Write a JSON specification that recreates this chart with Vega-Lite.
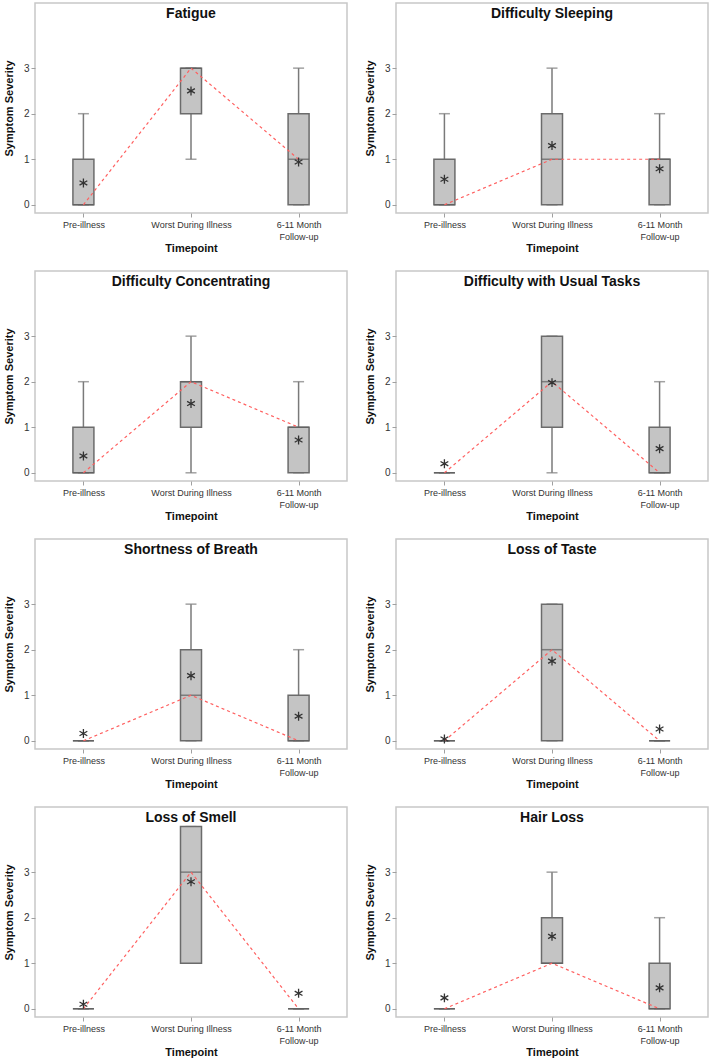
{
  "$schema": "https://vega.github.io/schema/vega-lite/v6.json",
  "padding": {"left": 2, "top": 2, "right": 0, "bottom": 0},
  "columns": 2,
  "spacing": {"row": 58, "column": 49},
  "bounds": "flush",
  "data": {"values": [
    {"symptom": "Fatigue", "timepoint": "Pre-illness", "t": 1, "q1": 0, "med": 0, "q3": 1, "lo": 0, "hi": 2, "mean": 0.48},
    {"symptom": "Fatigue", "timepoint": "Worst During Illness", "t": 2, "q1": 2, "med": 3, "q3": 3, "lo": 1, "hi": 3, "mean": 2.50},
    {"symptom": "Fatigue", "timepoint": "6-11 Month Follow-up", "t": 3, "q1": 0, "med": 1, "q3": 2, "lo": 0, "hi": 3, "mean": 0.94},
    {"symptom": "Difficulty Sleeping", "timepoint": "Pre-illness", "t": 1, "q1": 0, "med": 0, "q3": 1, "lo": 0, "hi": 2, "mean": 0.56},
    {"symptom": "Difficulty Sleeping", "timepoint": "Worst During Illness", "t": 2, "q1": 0, "med": 1, "q3": 2, "lo": 0, "hi": 3, "mean": 1.30},
    {"symptom": "Difficulty Sleeping", "timepoint": "6-11 Month Follow-up", "t": 3, "q1": 0, "med": 1, "q3": 1, "lo": 0, "hi": 2, "mean": 0.79},
    {"symptom": "Difficulty Concentrating", "timepoint": "Pre-illness", "t": 1, "q1": 0, "med": 0, "q3": 1, "lo": 0, "hi": 2, "mean": 0.37},
    {"symptom": "Difficulty Concentrating", "timepoint": "Worst During Illness", "t": 2, "q1": 1, "med": 2, "q3": 2, "lo": 0, "hi": 3, "mean": 1.52},
    {"symptom": "Difficulty Concentrating", "timepoint": "6-11 Month Follow-up", "t": 3, "q1": 0, "med": 1, "q3": 1, "lo": 0, "hi": 2, "mean": 0.72},
    {"symptom": "Difficulty with Usual Tasks", "timepoint": "Pre-illness", "t": 1, "q1": 0, "med": 0, "q3": 0, "lo": 0, "hi": 0, "mean": 0.20},
    {"symptom": "Difficulty with Usual Tasks", "timepoint": "Worst During Illness", "t": 2, "q1": 1, "med": 2, "q3": 3, "lo": 0, "hi": 3, "mean": 1.98},
    {"symptom": "Difficulty with Usual Tasks", "timepoint": "6-11 Month Follow-up", "t": 3, "q1": 0, "med": 0, "q3": 1, "lo": 0, "hi": 2, "mean": 0.53},
    {"symptom": "Shortness of Breath", "timepoint": "Pre-illness", "t": 1, "q1": 0, "med": 0, "q3": 0, "lo": 0, "hi": 0, "mean": 0.16},
    {"symptom": "Shortness of Breath", "timepoint": "Worst During Illness", "t": 2, "q1": 0, "med": 1, "q3": 2, "lo": 0, "hi": 3, "mean": 1.43},
    {"symptom": "Shortness of Breath", "timepoint": "6-11 Month Follow-up", "t": 3, "q1": 0, "med": 0, "q3": 1, "lo": 0, "hi": 2, "mean": 0.54},
    {"symptom": "Loss of Taste", "timepoint": "Pre-illness", "t": 1, "q1": 0, "med": 0, "q3": 0, "lo": 0, "hi": 0, "mean": 0.04},
    {"symptom": "Loss of Taste", "timepoint": "Worst During Illness", "t": 2, "q1": 0, "med": 2, "q3": 3, "lo": 0, "hi": 3, "mean": 1.75},
    {"symptom": "Loss of Taste", "timepoint": "6-11 Month Follow-up", "t": 3, "q1": 0, "med": 0, "q3": 0, "lo": 0, "hi": 0, "mean": 0.26},
    {"symptom": "Loss of Smell", "timepoint": "Pre-illness", "t": 1, "q1": 0, "med": 0, "q3": 0, "lo": 0, "hi": 0, "mean": 0.10},
    {"symptom": "Loss of Smell", "timepoint": "Worst During Illness", "t": 2, "q1": 1, "med": 3, "q3": 4, "lo": 1, "hi": 4, "mean": 2.79},
    {"symptom": "Loss of Smell", "timepoint": "6-11 Month Follow-up", "t": 3, "q1": 0, "med": 0, "q3": 0, "lo": 0, "hi": 0, "mean": 0.34},
    {"symptom": "Hair Loss", "timepoint": "Pre-illness", "t": 1, "q1": 0, "med": 0, "q3": 0, "lo": 0, "hi": 0, "mean": 0.24},
    {"symptom": "Hair Loss", "timepoint": "Worst During Illness", "t": 2, "q1": 1, "med": 1, "q3": 2, "lo": 1, "hi": 3, "mean": 1.59},
    {"symptom": "Hair Loss", "timepoint": "6-11 Month Follow-up", "t": 3, "q1": 0, "med": 0, "q3": 1, "lo": 0, "hi": 2, "mean": 0.46}
  ]},
  "concat": [
    {"title": "Fatigue", "width": 312, "height": 210, "transform": [{"filter": "datum.symptom === 'Fatigue'"}],
     "encoding": {"x": {"field": "timepoint", "type": "nominal", "sort": ["Pre-illness", "Worst During Illness", "6-11 Month Follow-up"], "scale": {"type": "point", "padding": 0.45}, "axis": {"title": "Timepoint", "labelAngle": 0, "labelFontSize": 9, "labelLineHeight": 12, "labelPadding": 3, "titlePadding": 1, "labelExpr": "datum.value == '6-11 Month Follow-up' ? ['6-11 Month', 'Follow-up'] : datum.label"}}},
     "layer": [
      {"mark": {"type": "rule", "color": "#7a7a7a", "strokeWidth": 1.5}, "encoding": {"y": {"field": "lo", "type": "quantitative", "title": "Symptom Severity", "scale": {"domain": [-0.18, 4.43], "nice": false, "zero": false}, "axis": {"values": [0, 1, 2, 3], "titlePadding": 9}}, "y2": {"field": "hi"}}},
      {"mark": {"type": "tick", "color": "#7a7a7a", "size": 11, "thickness": 1.5}, "encoding": {"y": {"field": "lo", "type": "quantitative", "title": "Symptom Severity"}}},
      {"mark": {"type": "tick", "color": "#7a7a7a", "size": 11, "thickness": 1.5}, "encoding": {"y": {"field": "hi", "type": "quantitative", "title": "Symptom Severity"}}},
      {"mark": {"type": "bar", "width": 21, "fill": "#c4c4c4", "stroke": "#6b6b6b", "strokeWidth": 1.5}, "encoding": {"y": {"field": "q1", "type": "quantitative", "title": "Symptom Severity"}, "y2": {"field": "q3"}}},
      {"mark": {"type": "tick", "color": "#5e5e5e", "size": 21, "thickness": 1.5}, "encoding": {"y": {"field": "med", "type": "quantitative", "title": "Symptom Severity"}}},
      {"mark": {"type": "line", "color": "#ff6060", "strokeDash": [3, 3], "strokeWidth": 1.2}, "encoding": {"y": {"field": "med", "type": "quantitative", "title": "Symptom Severity"}, "order": {"field": "t"}}},
      {"mark": {"type": "point", "shape": "M0,-1L0,1M-0.87,-0.5L0.87,0.5M-0.87,0.5L0.87,-0.5", "filled": false, "size": 80, "stroke": "#333333", "strokeWidth": 1.3, "opacity": 1}, "encoding": {"y": {"field": "mean", "type": "quantitative", "title": "Symptom Severity"}}}
     ]},
    {"title": "Difficulty Sleeping", "width": 312, "height": 210, "transform": [{"filter": "datum.symptom === 'Difficulty Sleeping'"}],
     "encoding": {"x": {"field": "timepoint", "type": "nominal", "sort": ["Pre-illness", "Worst During Illness", "6-11 Month Follow-up"], "scale": {"type": "point", "padding": 0.45}, "axis": {"title": "Timepoint", "labelAngle": 0, "labelFontSize": 9, "labelLineHeight": 12, "labelPadding": 3, "titlePadding": 1, "labelExpr": "datum.value == '6-11 Month Follow-up' ? ['6-11 Month', 'Follow-up'] : datum.label"}}},
     "layer": [
      {"mark": {"type": "rule", "color": "#7a7a7a", "strokeWidth": 1.5}, "encoding": {"y": {"field": "lo", "type": "quantitative", "title": "Symptom Severity", "scale": {"domain": [-0.18, 4.43], "nice": false, "zero": false}, "axis": {"values": [0, 1, 2, 3], "titlePadding": 9}}, "y2": {"field": "hi"}}},
      {"mark": {"type": "tick", "color": "#7a7a7a", "size": 11, "thickness": 1.5}, "encoding": {"y": {"field": "lo", "type": "quantitative", "title": "Symptom Severity"}}},
      {"mark": {"type": "tick", "color": "#7a7a7a", "size": 11, "thickness": 1.5}, "encoding": {"y": {"field": "hi", "type": "quantitative", "title": "Symptom Severity"}}},
      {"mark": {"type": "bar", "width": 21, "fill": "#c4c4c4", "stroke": "#6b6b6b", "strokeWidth": 1.5}, "encoding": {"y": {"field": "q1", "type": "quantitative", "title": "Symptom Severity"}, "y2": {"field": "q3"}}},
      {"mark": {"type": "tick", "color": "#5e5e5e", "size": 21, "thickness": 1.5}, "encoding": {"y": {"field": "med", "type": "quantitative", "title": "Symptom Severity"}}},
      {"mark": {"type": "line", "color": "#ff6060", "strokeDash": [3, 3], "strokeWidth": 1.2}, "encoding": {"y": {"field": "med", "type": "quantitative", "title": "Symptom Severity"}, "order": {"field": "t"}}},
      {"mark": {"type": "point", "shape": "M0,-1L0,1M-0.87,-0.5L0.87,0.5M-0.87,0.5L0.87,-0.5", "filled": false, "size": 80, "stroke": "#333333", "strokeWidth": 1.3, "opacity": 1}, "encoding": {"y": {"field": "mean", "type": "quantitative", "title": "Symptom Severity"}}}
     ]},
    {"title": "Difficulty Concentrating", "width": 312, "height": 210, "transform": [{"filter": "datum.symptom === 'Difficulty Concentrating'"}],
     "encoding": {"x": {"field": "timepoint", "type": "nominal", "sort": ["Pre-illness", "Worst During Illness", "6-11 Month Follow-up"], "scale": {"type": "point", "padding": 0.45}, "axis": {"title": "Timepoint", "labelAngle": 0, "labelFontSize": 9, "labelLineHeight": 12, "labelPadding": 3, "titlePadding": 1, "labelExpr": "datum.value == '6-11 Month Follow-up' ? ['6-11 Month', 'Follow-up'] : datum.label"}}},
     "layer": [
      {"mark": {"type": "rule", "color": "#7a7a7a", "strokeWidth": 1.5}, "encoding": {"y": {"field": "lo", "type": "quantitative", "title": "Symptom Severity", "scale": {"domain": [-0.18, 4.43], "nice": false, "zero": false}, "axis": {"values": [0, 1, 2, 3], "titlePadding": 9}}, "y2": {"field": "hi"}}},
      {"mark": {"type": "tick", "color": "#7a7a7a", "size": 11, "thickness": 1.5}, "encoding": {"y": {"field": "lo", "type": "quantitative", "title": "Symptom Severity"}}},
      {"mark": {"type": "tick", "color": "#7a7a7a", "size": 11, "thickness": 1.5}, "encoding": {"y": {"field": "hi", "type": "quantitative", "title": "Symptom Severity"}}},
      {"mark": {"type": "bar", "width": 21, "fill": "#c4c4c4", "stroke": "#6b6b6b", "strokeWidth": 1.5}, "encoding": {"y": {"field": "q1", "type": "quantitative", "title": "Symptom Severity"}, "y2": {"field": "q3"}}},
      {"mark": {"type": "tick", "color": "#5e5e5e", "size": 21, "thickness": 1.5}, "encoding": {"y": {"field": "med", "type": "quantitative", "title": "Symptom Severity"}}},
      {"mark": {"type": "line", "color": "#ff6060", "strokeDash": [3, 3], "strokeWidth": 1.2}, "encoding": {"y": {"field": "med", "type": "quantitative", "title": "Symptom Severity"}, "order": {"field": "t"}}},
      {"mark": {"type": "point", "shape": "M0,-1L0,1M-0.87,-0.5L0.87,0.5M-0.87,0.5L0.87,-0.5", "filled": false, "size": 80, "stroke": "#333333", "strokeWidth": 1.3, "opacity": 1}, "encoding": {"y": {"field": "mean", "type": "quantitative", "title": "Symptom Severity"}}}
     ]},
    {"title": "Difficulty with Usual Tasks", "width": 312, "height": 210, "transform": [{"filter": "datum.symptom === 'Difficulty with Usual Tasks'"}],
     "encoding": {"x": {"field": "timepoint", "type": "nominal", "sort": ["Pre-illness", "Worst During Illness", "6-11 Month Follow-up"], "scale": {"type": "point", "padding": 0.45}, "axis": {"title": "Timepoint", "labelAngle": 0, "labelFontSize": 9, "labelLineHeight": 12, "labelPadding": 3, "titlePadding": 1, "labelExpr": "datum.value == '6-11 Month Follow-up' ? ['6-11 Month', 'Follow-up'] : datum.label"}}},
     "layer": [
      {"mark": {"type": "rule", "color": "#7a7a7a", "strokeWidth": 1.5}, "encoding": {"y": {"field": "lo", "type": "quantitative", "title": "Symptom Severity", "scale": {"domain": [-0.18, 4.43], "nice": false, "zero": false}, "axis": {"values": [0, 1, 2, 3], "titlePadding": 9}}, "y2": {"field": "hi"}}},
      {"mark": {"type": "tick", "color": "#7a7a7a", "size": 11, "thickness": 1.5}, "encoding": {"y": {"field": "lo", "type": "quantitative", "title": "Symptom Severity"}}},
      {"mark": {"type": "tick", "color": "#7a7a7a", "size": 11, "thickness": 1.5}, "encoding": {"y": {"field": "hi", "type": "quantitative", "title": "Symptom Severity"}}},
      {"mark": {"type": "bar", "width": 21, "fill": "#c4c4c4", "stroke": "#6b6b6b", "strokeWidth": 1.5}, "encoding": {"y": {"field": "q1", "type": "quantitative", "title": "Symptom Severity"}, "y2": {"field": "q3"}}},
      {"mark": {"type": "tick", "color": "#5e5e5e", "size": 21, "thickness": 1.5}, "encoding": {"y": {"field": "med", "type": "quantitative", "title": "Symptom Severity"}}},
      {"mark": {"type": "line", "color": "#ff6060", "strokeDash": [3, 3], "strokeWidth": 1.2}, "encoding": {"y": {"field": "med", "type": "quantitative", "title": "Symptom Severity"}, "order": {"field": "t"}}},
      {"mark": {"type": "point", "shape": "M0,-1L0,1M-0.87,-0.5L0.87,0.5M-0.87,0.5L0.87,-0.5", "filled": false, "size": 80, "stroke": "#333333", "strokeWidth": 1.3, "opacity": 1}, "encoding": {"y": {"field": "mean", "type": "quantitative", "title": "Symptom Severity"}}}
     ]},
    {"title": "Shortness of Breath", "width": 312, "height": 210, "transform": [{"filter": "datum.symptom === 'Shortness of Breath'"}],
     "encoding": {"x": {"field": "timepoint", "type": "nominal", "sort": ["Pre-illness", "Worst During Illness", "6-11 Month Follow-up"], "scale": {"type": "point", "padding": 0.45}, "axis": {"title": "Timepoint", "labelAngle": 0, "labelFontSize": 9, "labelLineHeight": 12, "labelPadding": 3, "titlePadding": 1, "labelExpr": "datum.value == '6-11 Month Follow-up' ? ['6-11 Month', 'Follow-up'] : datum.label"}}},
     "layer": [
      {"mark": {"type": "rule", "color": "#7a7a7a", "strokeWidth": 1.5}, "encoding": {"y": {"field": "lo", "type": "quantitative", "title": "Symptom Severity", "scale": {"domain": [-0.18, 4.43], "nice": false, "zero": false}, "axis": {"values": [0, 1, 2, 3], "titlePadding": 9}}, "y2": {"field": "hi"}}},
      {"mark": {"type": "tick", "color": "#7a7a7a", "size": 11, "thickness": 1.5}, "encoding": {"y": {"field": "lo", "type": "quantitative", "title": "Symptom Severity"}}},
      {"mark": {"type": "tick", "color": "#7a7a7a", "size": 11, "thickness": 1.5}, "encoding": {"y": {"field": "hi", "type": "quantitative", "title": "Symptom Severity"}}},
      {"mark": {"type": "bar", "width": 21, "fill": "#c4c4c4", "stroke": "#6b6b6b", "strokeWidth": 1.5}, "encoding": {"y": {"field": "q1", "type": "quantitative", "title": "Symptom Severity"}, "y2": {"field": "q3"}}},
      {"mark": {"type": "tick", "color": "#5e5e5e", "size": 21, "thickness": 1.5}, "encoding": {"y": {"field": "med", "type": "quantitative", "title": "Symptom Severity"}}},
      {"mark": {"type": "line", "color": "#ff6060", "strokeDash": [3, 3], "strokeWidth": 1.2}, "encoding": {"y": {"field": "med", "type": "quantitative", "title": "Symptom Severity"}, "order": {"field": "t"}}},
      {"mark": {"type": "point", "shape": "M0,-1L0,1M-0.87,-0.5L0.87,0.5M-0.87,0.5L0.87,-0.5", "filled": false, "size": 80, "stroke": "#333333", "strokeWidth": 1.3, "opacity": 1}, "encoding": {"y": {"field": "mean", "type": "quantitative", "title": "Symptom Severity"}}}
     ]},
    {"title": "Loss of Taste", "width": 312, "height": 210, "transform": [{"filter": "datum.symptom === 'Loss of Taste'"}],
     "encoding": {"x": {"field": "timepoint", "type": "nominal", "sort": ["Pre-illness", "Worst During Illness", "6-11 Month Follow-up"], "scale": {"type": "point", "padding": 0.45}, "axis": {"title": "Timepoint", "labelAngle": 0, "labelFontSize": 9, "labelLineHeight": 12, "labelPadding": 3, "titlePadding": 1, "labelExpr": "datum.value == '6-11 Month Follow-up' ? ['6-11 Month', 'Follow-up'] : datum.label"}}},
     "layer": [
      {"mark": {"type": "rule", "color": "#7a7a7a", "strokeWidth": 1.5}, "encoding": {"y": {"field": "lo", "type": "quantitative", "title": "Symptom Severity", "scale": {"domain": [-0.18, 4.43], "nice": false, "zero": false}, "axis": {"values": [0, 1, 2, 3], "titlePadding": 9}}, "y2": {"field": "hi"}}},
      {"mark": {"type": "tick", "color": "#7a7a7a", "size": 11, "thickness": 1.5}, "encoding": {"y": {"field": "lo", "type": "quantitative", "title": "Symptom Severity"}}},
      {"mark": {"type": "tick", "color": "#7a7a7a", "size": 11, "thickness": 1.5}, "encoding": {"y": {"field": "hi", "type": "quantitative", "title": "Symptom Severity"}}},
      {"mark": {"type": "bar", "width": 21, "fill": "#c4c4c4", "stroke": "#6b6b6b", "strokeWidth": 1.5}, "encoding": {"y": {"field": "q1", "type": "quantitative", "title": "Symptom Severity"}, "y2": {"field": "q3"}}},
      {"mark": {"type": "tick", "color": "#5e5e5e", "size": 21, "thickness": 1.5}, "encoding": {"y": {"field": "med", "type": "quantitative", "title": "Symptom Severity"}}},
      {"mark": {"type": "line", "color": "#ff6060", "strokeDash": [3, 3], "strokeWidth": 1.2}, "encoding": {"y": {"field": "med", "type": "quantitative", "title": "Symptom Severity"}, "order": {"field": "t"}}},
      {"mark": {"type": "point", "shape": "M0,-1L0,1M-0.87,-0.5L0.87,0.5M-0.87,0.5L0.87,-0.5", "filled": false, "size": 80, "stroke": "#333333", "strokeWidth": 1.3, "opacity": 1}, "encoding": {"y": {"field": "mean", "type": "quantitative", "title": "Symptom Severity"}}}
     ]},
    {"title": "Loss of Smell", "width": 312, "height": 210, "transform": [{"filter": "datum.symptom === 'Loss of Smell'"}],
     "encoding": {"x": {"field": "timepoint", "type": "nominal", "sort": ["Pre-illness", "Worst During Illness", "6-11 Month Follow-up"], "scale": {"type": "point", "padding": 0.45}, "axis": {"title": "Timepoint", "labelAngle": 0, "labelFontSize": 9, "labelLineHeight": 12, "labelPadding": 3, "titlePadding": 1, "labelExpr": "datum.value == '6-11 Month Follow-up' ? ['6-11 Month', 'Follow-up'] : datum.label"}}},
     "layer": [
      {"mark": {"type": "rule", "color": "#7a7a7a", "strokeWidth": 1.5}, "encoding": {"y": {"field": "lo", "type": "quantitative", "title": "Symptom Severity", "scale": {"domain": [-0.18, 4.43], "nice": false, "zero": false}, "axis": {"values": [0, 1, 2, 3], "titlePadding": 9}}, "y2": {"field": "hi"}}},
      {"mark": {"type": "tick", "color": "#7a7a7a", "size": 11, "thickness": 1.5}, "encoding": {"y": {"field": "lo", "type": "quantitative", "title": "Symptom Severity"}}},
      {"mark": {"type": "tick", "color": "#7a7a7a", "size": 11, "thickness": 1.5}, "encoding": {"y": {"field": "hi", "type": "quantitative", "title": "Symptom Severity"}}},
      {"mark": {"type": "bar", "width": 21, "fill": "#c4c4c4", "stroke": "#6b6b6b", "strokeWidth": 1.5}, "encoding": {"y": {"field": "q1", "type": "quantitative", "title": "Symptom Severity"}, "y2": {"field": "q3"}}},
      {"mark": {"type": "tick", "color": "#5e5e5e", "size": 21, "thickness": 1.5}, "encoding": {"y": {"field": "med", "type": "quantitative", "title": "Symptom Severity"}}},
      {"mark": {"type": "line", "color": "#ff6060", "strokeDash": [3, 3], "strokeWidth": 1.2}, "encoding": {"y": {"field": "med", "type": "quantitative", "title": "Symptom Severity"}, "order": {"field": "t"}}},
      {"mark": {"type": "point", "shape": "M0,-1L0,1M-0.87,-0.5L0.87,0.5M-0.87,0.5L0.87,-0.5", "filled": false, "size": 80, "stroke": "#333333", "strokeWidth": 1.3, "opacity": 1}, "encoding": {"y": {"field": "mean", "type": "quantitative", "title": "Symptom Severity"}}}
     ]},
    {"title": "Hair Loss", "width": 312, "height": 210, "transform": [{"filter": "datum.symptom === 'Hair Loss'"}],
     "encoding": {"x": {"field": "timepoint", "type": "nominal", "sort": ["Pre-illness", "Worst During Illness", "6-11 Month Follow-up"], "scale": {"type": "point", "padding": 0.45}, "axis": {"title": "Timepoint", "labelAngle": 0, "labelFontSize": 9, "labelLineHeight": 12, "labelPadding": 3, "titlePadding": 1, "labelExpr": "datum.value == '6-11 Month Follow-up' ? ['6-11 Month', 'Follow-up'] : datum.label"}}},
     "layer": [
      {"mark": {"type": "rule", "color": "#7a7a7a", "strokeWidth": 1.5}, "encoding": {"y": {"field": "lo", "type": "quantitative", "title": "Symptom Severity", "scale": {"domain": [-0.18, 4.43], "nice": false, "zero": false}, "axis": {"values": [0, 1, 2, 3], "titlePadding": 9}}, "y2": {"field": "hi"}}},
      {"mark": {"type": "tick", "color": "#7a7a7a", "size": 11, "thickness": 1.5}, "encoding": {"y": {"field": "lo", "type": "quantitative", "title": "Symptom Severity"}}},
      {"mark": {"type": "tick", "color": "#7a7a7a", "size": 11, "thickness": 1.5}, "encoding": {"y": {"field": "hi", "type": "quantitative", "title": "Symptom Severity"}}},
      {"mark": {"type": "bar", "width": 21, "fill": "#c4c4c4", "stroke": "#6b6b6b", "strokeWidth": 1.5}, "encoding": {"y": {"field": "q1", "type": "quantitative", "title": "Symptom Severity"}, "y2": {"field": "q3"}}},
      {"mark": {"type": "tick", "color": "#5e5e5e", "size": 21, "thickness": 1.5}, "encoding": {"y": {"field": "med", "type": "quantitative", "title": "Symptom Severity"}}},
      {"mark": {"type": "line", "color": "#ff6060", "strokeDash": [3, 3], "strokeWidth": 1.2}, "encoding": {"y": {"field": "med", "type": "quantitative", "title": "Symptom Severity"}, "order": {"field": "t"}}},
      {"mark": {"type": "point", "shape": "M0,-1L0,1M-0.87,-0.5L0.87,0.5M-0.87,0.5L0.87,-0.5", "filled": false, "size": 80, "stroke": "#333333", "strokeWidth": 1.3, "opacity": 1}, "encoding": {"y": {"field": "mean", "type": "quantitative", "title": "Symptom Severity"}}}
     ]}
  ],
  "config": {
    "font": "Liberation Sans",
    "view": {"stroke": "#c8c8c8", "strokeWidth": 1.5},
    "axis": {"grid": false, "domain": false, "tickColor": "#a0a0a0", "tickSize": 4, "labelColor": "#333333", "titleColor": "#111111", "labelFontSize": 10, "titleFontSize": 11, "titleFontWeight": "bold"},
    "title": {"fontSize": 14, "fontWeight": "bold", "offset": -18, "color": "#111111", "anchor": "middle"}
  }
}
